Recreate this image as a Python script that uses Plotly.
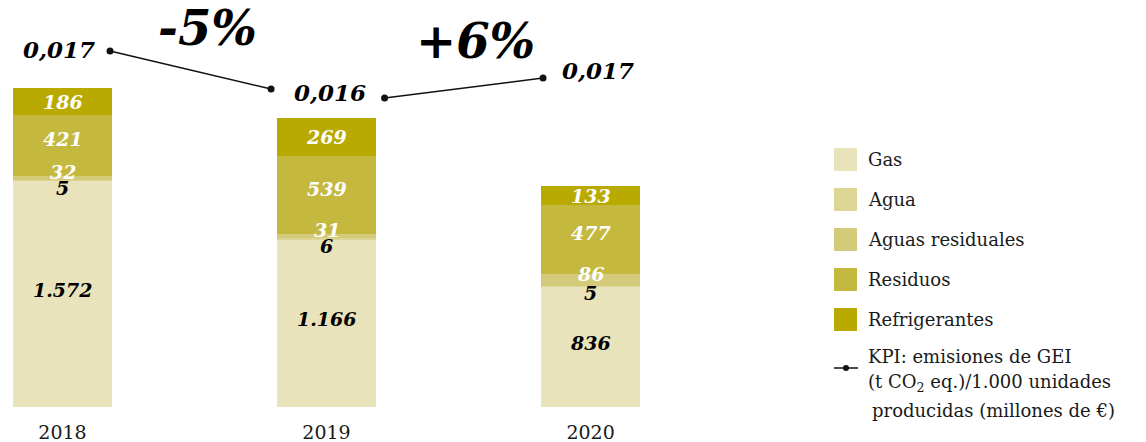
import plotly.graph_objects as go

# ---- data -------------------------------------------------------------
years = ["2018", "2019", "2020"]
gas = [1572, 1166, 836]
agua = [5, 6, 5]
aguas_residuales = [32, 31, 86]
residuos = [421, 539, 477]
refrigerantes = [186, 269, 133]
kpi = [0.017, 0.016, 0.017]
kpi_change = ["-5%", "+6%"]

series_names = ["Gas", "Agua", "Aguas residuales", "Residuos", "Refrigerantes"]
series_values = [gas, agua, aguas_residuales, residuos, refrigerantes]

# ---- style --------------------------------------------------------------
W, H = 1146, 442
MB = 35                      # bottom margin (px)
PLOT_H = H - MB
SERIF = "DejaVu Serif"
series_colors = ["#E8E3BA", "#DCD594", "#D4CB7A", "#C4B83F", "#B8AA00"]
label_colors = ["#000000", "#000000", "#FFFFFF", "#FFFFFF", "#FFFFFF"]
label_shift = [4, -7, 6, 6, 0]
BAR_W = 0.375
KPI_SEG_OFFSETS = [(0.18, -0.21), (0.22, -0.18)]


def px_x(x):
    return x / W


def px_y(y):
    return (PLOT_H - y) / PLOT_H


def fmt_es(v):
    return f"{v:,}".replace(",", ".")


def fmt_kpi(v):
    return f"{v:.3f}".replace(".", ",")


xpos = list(range(len(years)))
fig = go.Figure()

# stacked bars
for name, vals, col in zip(series_names, series_values, series_colors):
    fig.add_trace(go.Bar(
        x=xpos, y=vals, name=name, width=BAR_W,
        marker=dict(color=col, line=dict(width=0)),
        showlegend=False, hoverinfo="skip",
    ))

annotations = []
bold_it = dict(family=SERIF, weight="bold", style="italic")

# value labels inside the bars
for i in xpos:
    base = 0
    for k, vals in enumerate(series_values):
        v = vals[i]
        annotations.append(dict(
            x=i, y=base + v / 2, xref="x", yref="y", text=fmt_es(v),
            showarrow=False, yshift=label_shift[k],
            font=dict(size=19, color=label_colors[k], **bold_it),
        ))
        base += v

# KPI line, one segment per year-on-year change
seg_axes = ["y2", "y3"]
for s, (o0, o1) in enumerate(KPI_SEG_OFFSETS):
    fig.add_trace(go.Scatter(
        x=[xpos[s] + o0, xpos[s + 1] + o1], y=[kpi[s], kpi[s + 1]],
        yaxis=seg_axes[s], mode="lines+markers",
        line=dict(color="#111111", width=1.5),
        marker=dict(color="#111111", size=7),
        showlegend=False, hoverinfo="skip",
    ))

# KPI value labels
annotations.append(dict(
    x=xpos[0] + KPI_SEG_OFFSETS[0][0], y=kpi[0], xref="x", yref="y2",
    text=fmt_kpi(kpi[0]), showarrow=False, xanchor="right", xshift=-13,
    yshift=2, font=dict(size=23, color="#000000", **bold_it)))
annotations.append(dict(
    x=xpos[1], y=kpi[1], xref="x", yref="y2",
    text=fmt_kpi(kpi[1]), showarrow=False, xshift=3, yshift=-3,
    font=dict(size=23, color="#000000", **bold_it)))
annotations.append(dict(
    x=xpos[2] + KPI_SEG_OFFSETS[1][1], y=kpi[2], xref="x", yref="y3",
    text=fmt_kpi(kpi[2]), showarrow=False, xanchor="left", xshift=17,
    yshift=8, font=dict(size=23, color="#000000", **bold_it)))

# change percentages
for txt, (cx, cy) in zip(kpi_change, [(0.551, 28), (1.5625, 41)]):
    annotations.append(dict(
        x=cx, y=px_y(cy), xref="x", yref="paper", text=txt,
        showarrow=False, xanchor="center", yanchor="middle",
        font=dict(size=48, color="#000000", **bold_it)))

# custom legend
shapes = []
sw_x0, sw_x1, txt_x = 834, 857, 866
LEG_FONT = dict(family=SERIF, size=18, color="#1a1a1a")
for k, (name, col) in enumerate(zip(series_names, series_colors)):
    top = 148 + 40 * k
    shapes.append(dict(type="rect", xref="paper", yref="paper",
                       x0=px_x(sw_x0), x1=px_x(sw_x1),
                       y0=px_y(top + 23), y1=px_y(top),
                       fillcolor=col, line=dict(width=0)))
    annotations.append(dict(x=px_x(txt_x), y=px_y(top + 11.5), xref="paper",
                            yref="paper", text=name, showarrow=False,
                            xanchor="left", yanchor="middle", font=LEG_FONT))

shapes.append(dict(type="line", xref="paper", yref="paper",
                   x0=px_x(834), x1=px_x(858), y0=px_y(368), y1=px_y(368),
                   line=dict(color="#111111", width=1.5)))
shapes.append(dict(type="circle", xref="paper", yref="paper",
                   x0=px_x(843), x1=px_x(849), y0=px_y(371), y1=px_y(365),
                   fillcolor="#111111", line=dict(width=0)))
kpi_lines = [
    ("KPI: emisiones de GEI", 866, 356),
    ("(t CO<sub>2</sub> eq.)/1.000 unidades", 866, 383),
    ("producidas (millones de €)", 870, 410),
]
for txt, lx, ly in kpi_lines:
    annotations.append(dict(x=px_x(lx), y=px_y(ly), xref="paper", yref="paper",
                            text=txt, showarrow=False, xanchor="left",
                            yanchor="middle", font=LEG_FONT))

fig.update_layout(
    width=W, height=H,
    margin=dict(l=0, r=0, t=0, b=MB),
    barmode="stack", bargap=0,
    paper_bgcolor="white", plot_bgcolor="white",
    xaxis=dict(domain=[0, 660 / W], range=[-0.2367, 2.263],
               tickvals=xpos, ticktext=years, showgrid=False,
               zeroline=False, showline=False, ticks="",
               ticklabelstandoff=12,
               tickfont=dict(family=SERIF, size=19, color="#1a1a1a")),
    yaxis=dict(range=[0, 2830], visible=False, fixedrange=True),
    yaxis2=dict(range=[0.0076316, 0.0183421], overlaying="y",
                visible=False),
    yaxis3=dict(range=[0.00055, 0.0209], overlaying="y", visible=False),
    shapes=shapes,
    annotations=annotations,
    showlegend=False,
)

fig.write_html("out.html")
